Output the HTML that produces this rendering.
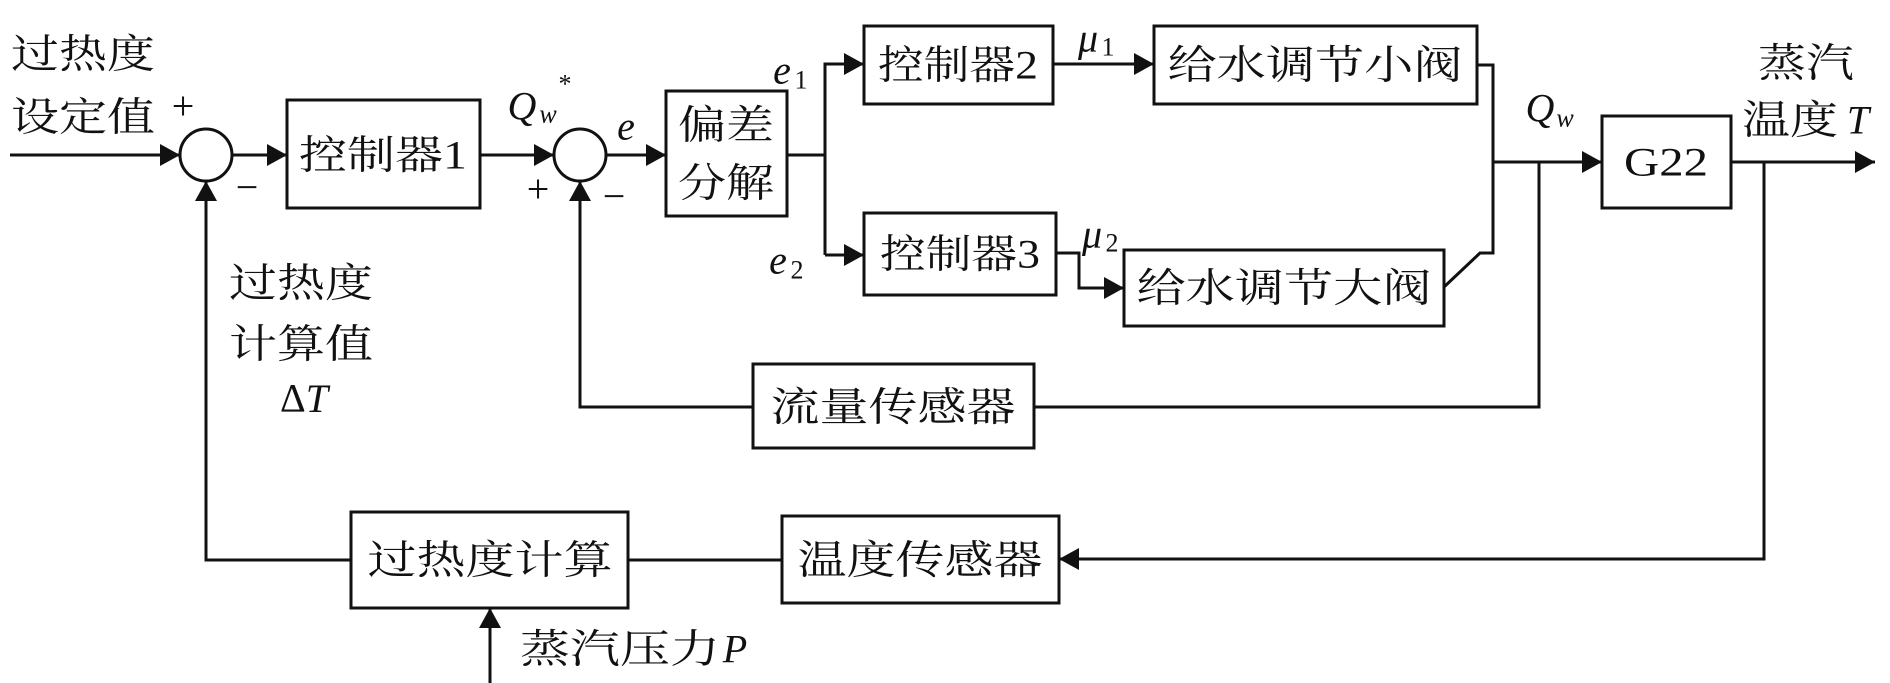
<!DOCTYPE html>
<html><head><meta charset="utf-8"><style>
html,body{margin:0;padding:0;background:#fff;}
svg{display:block;}
text{font-family:"Liberation Serif","Noto Serif CJK SC",serif;font-size:40px;fill:#111;dominant-baseline:central;text-anchor:middle;}
.i{font-style:italic;}
.s{font-size:26px;}
</style></head><body>
<svg width="1890" height="683" viewBox="0 0 1890 683" xmlns="http://www.w3.org/2000/svg">
<defs>
<marker id="a" markerUnits="userSpaceOnUse" markerWidth="22" markerHeight="22" refX="20" refY="11" orient="auto">
<path d="M0,0 L20,11 L0,22 Z" fill="#111"/></marker>
</defs>
<g stroke="#111" stroke-width="3" fill="none">
<!-- boxes -->
<rect x="287" y="100" width="193" height="108"/>
<rect x="666" y="91" width="121" height="125"/>
<rect x="864" y="26" width="189" height="78"/>
<rect x="864" y="213" width="192" height="82"/>
<rect x="1154" y="26" width="323" height="78"/>
<rect x="1124" y="250" width="320" height="76"/>
<rect x="1602" y="116" width="129" height="92"/>
<rect x="753" y="364" width="281" height="84"/>
<rect x="782" y="516" width="277" height="87"/>
<rect x="351" y="512" width="277" height="96"/>
<ellipse cx="206" cy="155" rx="26" ry="26"/>
<ellipse cx="580" cy="155" rx="26" ry="26"/>
<!-- connectors -->
<path d="M10,155 H180" marker-end="url(#a)"/>
<path d="M232,155 H287" marker-end="url(#a)"/>
<path d="M480,155 H554" marker-end="url(#a)"/>
<path d="M606,155 H666" marker-end="url(#a)"/>
<path d="M787,155 H825"/>
<path d="M825,255 V64 H864" marker-end="url(#a)"/>
<path d="M825,255 H864" marker-end="url(#a)"/>
<path d="M1053,64 H1154" marker-end="url(#a)"/>
<path d="M1056,253 H1079 V288 H1124" marker-end="url(#a)"/>
<path d="M1477,65 H1493 V253 H1480 L1444,287"/>
<path d="M1493,162 H1602" marker-end="url(#a)"/>
<path d="M1539,162 V407 H1034"/>
<path d="M1731,162 H1875" marker-end="url(#a)"/>
<path d="M1764,162 V559 H1059" marker-end="url(#a)"/>
<path d="M753,407 H580 V181" marker-end="url(#a)"/>
<path d="M782,560 H628"/>
<path d="M351,560 H206 V181" marker-end="url(#a)"/>
<path d="M490,683 V608" marker-end="url(#a)"/>
</g>
<!-- labels -->
<text x="83" y="54" textLength="144" lengthAdjust="spacingAndGlyphs">过热度</text>
<text x="83" y="117" textLength="144" lengthAdjust="spacingAndGlyphs">设定值</text>
<text x="183" y="106">+</text>
<text x="247" y="187">−</text>
<text x="383" y="155" textLength="168" lengthAdjust="spacingAndGlyphs">控制器1</text>
<text x="522" y="106" class="i">Q</text>
<text x="548" y="114" class="i s">w</text>
<text x="565" y="84" class="s">*</text>
<text x="538" y="189">+</text>
<text x="614" y="196">−</text>
<text x="626" y="126" class="i">e</text>
<text x="726" y="125" textLength="96" lengthAdjust="spacingAndGlyphs">偏差</text>
<text x="726" y="183" textLength="96" lengthAdjust="spacingAndGlyphs">分解</text>
<text x="782" y="70" class="i">e</text>
<text x="801" y="80" class="s">1</text>
<text x="778" y="260" class="i">e</text>
<text x="797" y="270" class="s">2</text>
<text x="958" y="65" textLength="160" lengthAdjust="spacingAndGlyphs">控制器2</text>
<text x="960" y="254" textLength="160" lengthAdjust="spacingAndGlyphs">控制器3</text>
<text x="1088" y="38" class="i">μ</text>
<text x="1108" y="47" class="s">1</text>
<text x="1092" y="234" class="i">μ</text>
<text x="1112" y="243" class="s">2</text>
<text x="1315" y="65" textLength="295" lengthAdjust="spacingAndGlyphs">给水调节小阀</text>
<text x="1284" y="288" textLength="295" lengthAdjust="spacingAndGlyphs">给水调节大阀</text>
<text x="1540" y="108" class="i">Q</text>
<text x="1565" y="118" class="i s">w</text>
<text x="1666" y="162" textLength="84" lengthAdjust="spacingAndGlyphs">G22</text>
<text x="1806" y="63" textLength="96" lengthAdjust="spacingAndGlyphs">蒸汽</text>
<text x="1790" y="120" textLength="96" lengthAdjust="spacingAndGlyphs">温度</text>
<text x="1858" y="120" class="i">T</text>
<text x="893" y="407" textLength="245" lengthAdjust="spacingAndGlyphs">流量传感器</text>
<text x="920" y="560" textLength="245" lengthAdjust="spacingAndGlyphs">温度传感器</text>
<text x="490" y="560" textLength="245" lengthAdjust="spacingAndGlyphs">过热度计算</text>
<text x="620" y="649" textLength="200" lengthAdjust="spacingAndGlyphs">蒸汽压力</text>
<text x="735" y="649" class="i">P</text>
<text x="301" y="283" textLength="144" lengthAdjust="spacingAndGlyphs">过热度</text>
<text x="301" y="344" textLength="144" lengthAdjust="spacingAndGlyphs">计算值</text>
<text x="304" y="398">Δ<tspan class="i">T</tspan></text>
</svg>
</body></html>
